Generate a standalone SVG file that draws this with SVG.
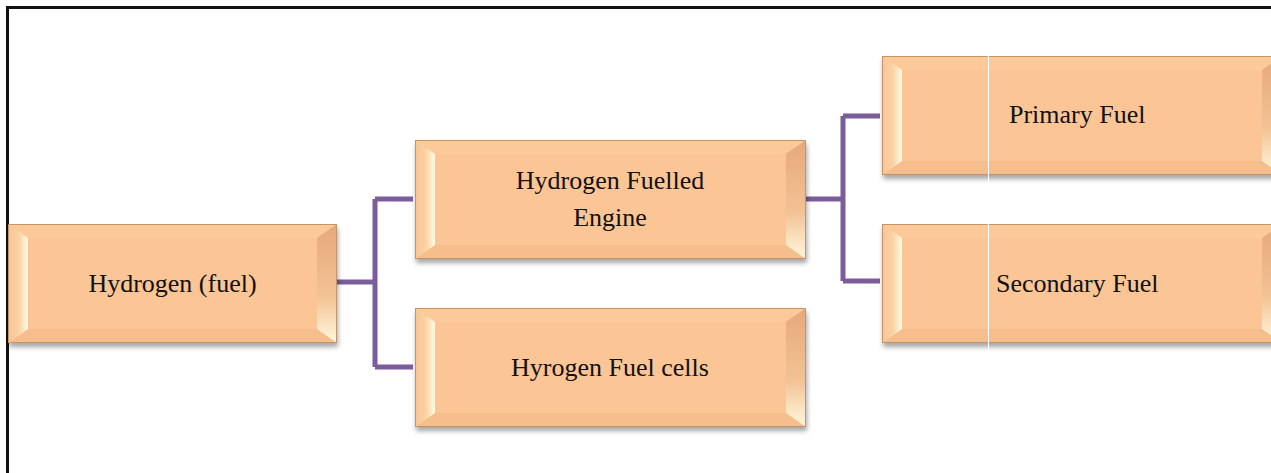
<svg xmlns="http://www.w3.org/2000/svg" width="1271" height="473" viewBox="0 0 1271 473">
<defs>
<style>
.face{fill:#FBC595}
.top{fill:#FCC998}
.bot{fill:#F6BE8D}
.lft{fill:url(#gl)}
.rgt{fill:url(#gr)}
.edge{fill:none;stroke:#C4956A;stroke-width:1}
.sh{fill:#000;opacity:0.35;filter:url(#blur)}
.lbl{font-family:"Liberation Serif","Times New Roman",serif;font-size:26px;fill:#111}
.con{fill:none;stroke:#7B5D99;stroke-width:5}
.frame{stroke:#111;stroke-width:3;fill:none}
</style>
<linearGradient id="gl" x1="0" y1="0" x2="1" y2="0">
<stop offset="0" stop-color="#F8C494"/>
<stop offset="0.55" stop-color="#FBD3A3"/>
<stop offset="1" stop-color="#FFFDE6"/>
</linearGradient>
<linearGradient id="gr" x1="0" y1="0" x2="0" y2="1">
<stop offset="0" stop-color="#E6A97A"/>
<stop offset="0.6" stop-color="#F2C294"/>
<stop offset="1" stop-color="#FFF8DC"/>
</linearGradient>
<filter id="blur" x="-10%" y="-10%" width="120%" height="130%"><feGaussianBlur stdDeviation="2.5"/></filter>
</defs>
<rect width="1271" height="473" fill="#fff"/>
<path class="frame" d="M7.5,473 V7.5 H1271"/>

<g id="connectors">
<path class="con" d="M337,282 H375 M375,199 V367 M375,199 H413 M375,367 H413"/>
<path class="con" d="M806,199 H843 M843,116 V281 M843,116 H880 M843,281 H880"/>
</g>

<g id="n1" transform="translate(8,224)">
<rect class="sh" x="1" y="4" width="329" height="119"/>
<rect class="face" width="329" height="119"/>
<polygon class="top" points="0,0 329,0 309,14 20,14"/>
<polygon class="bot" points="0,119 20,105 309,105 329,119"/>
<polygon class="lft" points="0,0 20,14 20,105 0,119"/>
<polygon class="rgt" points="329,0 329,119 309,105 309,14"/>
<rect class="edge" x="0.5" y="0.5" width="328" height="118"/>
<text class="lbl" x="164.5" y="68" text-anchor="middle">Hydrogen (fuel)</text>
</g>

<g id="n2" transform="translate(415,140)">
<rect class="sh" x="1" y="4" width="391" height="119"/>
<rect class="face" width="391" height="119"/>
<polygon class="top" points="0,0 391,0 371,14 20,14"/>
<polygon class="bot" points="0,119 20,105 371,105 391,119"/>
<polygon class="lft" points="0,0 20,14 20,105 0,119"/>
<polygon class="rgt" points="391,0 391,119 371,105 371,14"/>
<rect class="edge" x="0.5" y="0.5" width="390" height="118"/>
<text class="lbl" x="195" y="49" text-anchor="middle">Hydrogen Fuelled</text>
<text class="lbl" x="195" y="86" text-anchor="middle">Engine</text>
</g>

<g id="n3" transform="translate(415,308)">
<rect class="sh" x="1" y="4" width="391" height="119"/>
<rect class="face" width="391" height="119"/>
<polygon class="top" points="0,0 391,0 371,14 20,14"/>
<polygon class="bot" points="0,119 20,105 371,105 391,119"/>
<polygon class="lft" points="0,0 20,14 20,105 0,119"/>
<polygon class="rgt" points="391,0 391,119 371,105 371,14"/>
<rect class="edge" x="0.5" y="0.5" width="390" height="118"/>
<text class="lbl" x="195" y="68" text-anchor="middle">Hyrogen Fuel cells</text>
</g>

<g id="n4" transform="translate(882,56)">
<rect class="sh" x="1" y="4" width="400" height="119"/>
<rect class="face" width="400" height="119"/>
<polygon class="top" points="0,0 400,0 380,14 20,14"/>
<polygon class="bot" points="0,119 20,105 380,105 400,119"/>
<polygon class="lft" points="0,0 20,14 20,105 0,119"/>
<polygon class="rgt" points="400,0 400,119 380,105 380,14"/>
<rect class="edge" x="0.5" y="0.5" width="399" height="118"/>
<line x1="106.5" y1="0" x2="106.5" y2="127" stroke="#fff" stroke-width="1"/>
<text class="lbl" x="127" y="67">Primary Fuel</text>
</g>

<g id="n5" transform="translate(882,224)">
<rect class="sh" x="1" y="4" width="400" height="119"/>
<rect class="face" width="400" height="119"/>
<polygon class="top" points="0,0 400,0 380,14 20,14"/>
<polygon class="bot" points="0,119 20,105 380,105 400,119"/>
<polygon class="lft" points="0,0 20,14 20,105 0,119"/>
<polygon class="rgt" points="400,0 400,119 380,105 380,14"/>
<rect class="edge" x="0.5" y="0.5" width="399" height="118"/>
<line x1="106.5" y1="0" x2="106.5" y2="128" stroke="#fff" stroke-width="1"/>
<text class="lbl" x="114" y="68">Secondary Fuel</text>
</g>
</svg>
